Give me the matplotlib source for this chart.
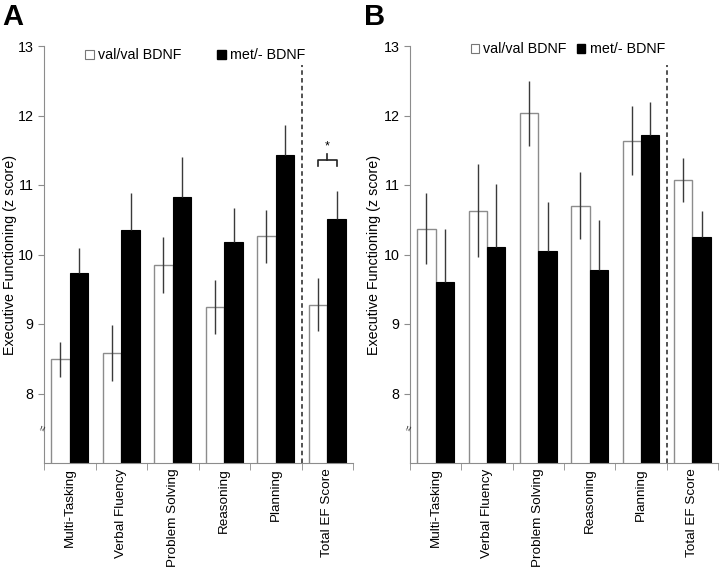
import matplotlib
matplotlib.use('Agg')
import matplotlib.pyplot as plt
from matplotlib.patches import Patch
import numpy as np

plt.rcParams['font.family'] = ['Liberation Sans', 'DejaVu Sans']

categories = ['Multi-Tasking', 'Verbal Fluency', 'Problem Solving', 'Reasoning', 'Planning', 'Total EF Score']

# panel A
val_A = [8.49, 8.58, 9.85, 9.24, 10.26, 9.28]
val_A_err = [0.25, 0.40, 0.40, 0.39, 0.38, 0.38]
met_A = [9.73, 10.35, 10.83, 10.18, 11.43, 10.51]
met_A_err = [0.36, 0.54, 0.58, 0.49, 0.43, 0.41]

# panel B
val_B = [10.37, 10.63, 12.03, 10.70, 11.64, 11.07]
val_B_err = [0.51, 0.67, 0.47, 0.48, 0.50, 0.32]
met_B = [9.61, 10.11, 10.05, 9.78, 11.72, 10.25]
met_B_err = [0.76, 0.91, 0.70, 0.72, 0.48, 0.37]

legend_labels = ['val/val BDNF', 'met/- BDNF']
ylabel = 'Executive Functioning (z score)'

gray = '#8c8c8c'
errc = '#3a3a3a'
bw = 0.36
fs = 9.7


def panel(ax, val, val_err, met, met_err, leg_x, leg_y, colspace, lab_x):
    x = np.arange(len(categories))
    ax.bar(x - bw / 2, val, bw, color='white', edgecolor=gray, linewidth=1.0, zorder=2)
    ax.bar(x + bw / 2, met, bw, color='black', edgecolor='black', linewidth=0.8, zorder=2)
    ax.errorbar(x - bw / 2, val, yerr=val_err, fmt='none', ecolor=errc, elinewidth=1.0, capsize=0, zorder=3)
    ax.errorbar(x + bw / 2, met, yerr=[np.zeros(len(met)), met_err], fmt='none', ecolor=errc,
                elinewidth=1.0, capsize=0, zorder=3)
    ax.plot([4.5, 4.5], [7, 12.72], ls=(0, (2.5, 1.8)), color='#444444', lw=1.3, zorder=1)

    ax.set_xlim(-0.5, 5.5)
    ax.set_ylim(7, 13)
    ax.set_yticks([8, 9, 10, 11, 12, 13])
    ax.set_xticks(x)
    ax.set_xticklabels(categories, rotation=90, fontsize=fs)
    ax.set_xticks(np.arange(-0.5, 6, 1), minor=True)
    ax.tick_params(axis='x', which='major', length=0, pad=4)
    ax.tick_params(axis='x', which='minor', length=5, color=gray, direction='out')
    ax.tick_params(axis='y', length=4, color=gray, labelsize=10.3)
    for s in ['top', 'right']:
        ax.spines[s].set_visible(False)
    ax.spines['left'].set_color(gray)
    ax.spines['bottom'].set_color(gray)
    ax.set_ylabel(ylabel, fontsize=10.3)
    ax.yaxis.set_label_coords(lab_x, 0.5)
    ax.text(-0.5, 7.5, '\u2248', rotation=75, fontsize=7, ha='center', va='center', color='#222222',
            clip_on=False, zorder=4)

    handles = [Patch(facecolor='white', edgecolor='#777777', linewidth=0.8),
               Patch(facecolor='black', edgecolor='black')]
    ax.legend(handles, legend_labels, ncol=2, frameon=False, fontsize=10.3,
              loc='center', bbox_to_anchor=(leg_x, leg_y), handlelength=0.6, handleheight=0.6,
              handletextpad=0.3, columnspacing=colspace, borderpad=0)


fig = plt.figure(figsize=(7.2, 5.71), dpi=100)
axA = fig.add_axes([44 / 720, 108 / 571, 309 / 720, 417 / 571])
axB = fig.add_axes([410 / 720, 108 / 571, 308 / 720, 417 / 571])

panel(axA, val_A, val_A_err, met_A, met_A_err, 0.49, 0.978, 2.5, -0.087)
panel(axB, val_B, val_B_err, met_B, met_B_err, 0.512, 0.992, 0.7, -0.094)

# significance bracket on total EF score, panel A
x5 = 5
bx = [x5 - bw / 2, x5 - bw / 2, x5 + bw / 2, x5 + bw / 2]
by = [11.28, 11.36, 11.36, 11.28]
axA.plot(bx, by, color='#222222', lw=1.2, zorder=4)
axA.plot([x5, x5], [11.36, 11.45], color='#222222', lw=1.2, zorder=4)
axA.text(x5, 11.56, '*', ha='center', va='center', fontsize=9)

fig.text(0.003, 0.995, 'A', fontsize=21, fontweight='bold', va='top', ha='left')
fig.text(0.505, 0.995, 'B', fontsize=21, fontweight='bold', va='top', ha='left')

fig.savefig('out.png', dpi=100)
